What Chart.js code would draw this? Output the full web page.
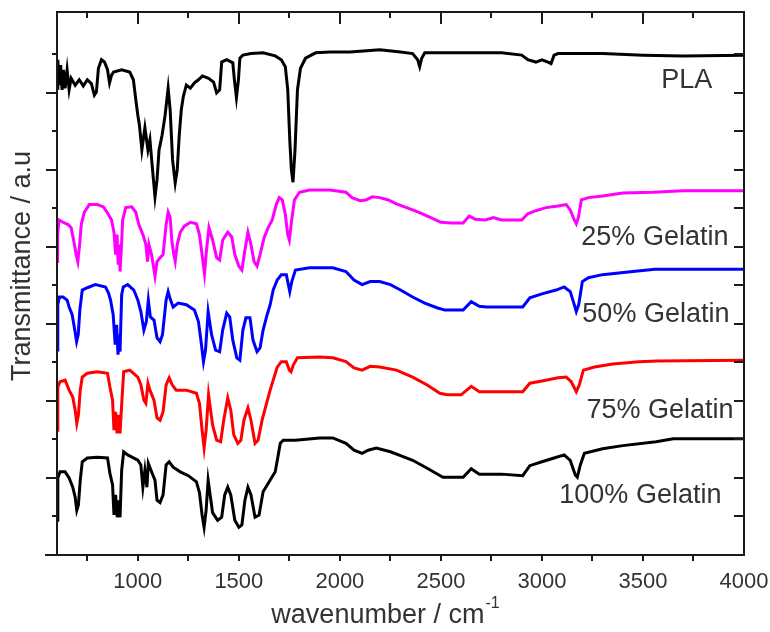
<!DOCTYPE html>
<html>
<head>
<meta charset="utf-8">
<title>FTIR spectra</title>
<script src="https://cdn.jsdelivr.net/npm/chart.js@4"></script>
<style>
  html, body { margin: 0; padding: 0; background: #fff; }
  canvas { display: block; }
</style>
</head>
<body>
<canvas id="ftir-chart" width="770" height="632"></canvas>
<script>
// Spectra as [wavenumber (cm-1), transmittance (a.u., offset per sample)]
const pla = [
    [600, 6.06], [604, 6.43], [610, 6.10], [618, 6.36], [625, 6.04], [632, 6.30], [640, 6.06], [650, 6.30],
    [660, 6.04], [670, 6.19], [690, 6.10], [710, 6.17], [730, 6.09], [750, 6.17], [770, 6.12], [785, 5.97],
    [795, 6.01], [805, 6.32], [820, 6.43], [835, 6.40], [850, 6.30], [860, 6.13], [870, 6.23], [880, 6.27],
    [920, 6.30], [960, 6.27], [978, 6.17], [990, 5.91], [1000, 5.71], [1008, 5.58], [1020, 5.26], [1035, 5.55],
    [1050, 5.26], [1060, 5.39], [1075, 4.94], [1085, 4.65], [1095, 4.87], [1105, 5.26], [1120, 5.45], [1135, 5.71],
    [1150, 6.06], [1160, 5.78], [1172, 5.13], [1185, 4.83], [1195, 5.00], [1205, 5.45], [1215, 5.78], [1225, 5.95],
    [1240, 6.10], [1260, 6.06], [1280, 6.13], [1300, 6.17], [1320, 6.22], [1350, 6.19], [1375, 6.14], [1390, 6.00],
    [1405, 6.04], [1415, 6.40], [1440, 6.43], [1470, 6.39], [1478, 6.17], [1488, 5.94], [1498, 6.17], [1505, 6.45],
    [1520, 6.49], [1560, 6.51], [1620, 6.52], [1680, 6.48], [1710, 6.43], [1730, 6.34], [1742, 6.04], [1752, 5.39],
    [1760, 5.00], [1768, 4.84], [1778, 5.26], [1790, 6.04], [1805, 6.32], [1830, 6.45], [1880, 6.52], [1950, 6.53],
    [2050, 6.53], [2150, 6.55], [2197, 6.56], [2300, 6.53], [2360, 6.51], [2385, 6.43], [2395, 6.34], [2405, 6.45],
    [2420, 6.52], [2600, 6.52], [2800, 6.52], [2900, 6.49], [2930, 6.43], [2970, 6.40], [3000, 6.43], [3030, 6.40],
    [3045, 6.38], [3060, 6.49], [3080, 6.51], [3300, 6.51], [3500, 6.49], [3700, 6.48], [4000, 6.49]
];

const gelatin25 = [
    [600, 3.81], [603, 4.16], [610, 4.35], [630, 4.32], [655, 4.29], [670, 4.25], [682, 4.09], [695, 3.90],
    [703, 3.81], [712, 4.03], [720, 4.29], [735, 4.45], [760, 4.55], [800, 4.55], [830, 4.52], [850, 4.44],
    [870, 4.35], [882, 4.19], [890, 3.90], [897, 4.16], [903, 3.77], [908, 4.03], [912, 3.68], [918, 3.96],
    [925, 4.35], [940, 4.51], [970, 4.52], [990, 4.45], [1005, 4.29], [1025, 4.16], [1040, 4.03], [1048, 3.81],
    [1055, 4.03], [1068, 3.90], [1085, 3.62], [1095, 3.81], [1110, 3.86], [1125, 3.90], [1140, 4.29], [1150, 4.45],
    [1160, 4.38], [1168, 4.09], [1178, 3.90], [1185, 3.81], [1195, 4.03], [1210, 4.19], [1230, 4.27], [1260, 4.32],
    [1290, 4.30], [1305, 4.16], [1318, 3.90], [1330, 3.65], [1340, 3.96], [1352, 4.25], [1370, 4.09], [1390, 3.86],
    [1405, 3.83], [1420, 4.09], [1445, 4.19], [1465, 4.13], [1480, 3.90], [1500, 3.75], [1515, 3.70], [1530, 3.96],
    [1545, 4.19], [1560, 4.03], [1575, 3.81], [1590, 3.75], [1605, 3.90], [1625, 4.12], [1645, 4.25], [1665, 4.35],
    [1685, 4.55], [1700, 4.64], [1715, 4.61], [1730, 4.42], [1742, 4.16], [1750, 4.09], [1760, 4.32], [1775, 4.61],
    [1800, 4.71], [1850, 4.74], [1950, 4.74], [2030, 4.71], [2060, 4.64], [2100, 4.60], [2130, 4.61], [2160, 4.65],
    [2197, 4.64], [2240, 4.61], [2280, 4.56], [2320, 4.52], [2360, 4.48], [2400, 4.44], [2450, 4.38], [2500, 4.32],
    [2550, 4.31], [2610, 4.31], [2640, 4.40], [2670, 4.36], [2720, 4.35], [2760, 4.38], [2800, 4.35], [2900, 4.35],
    [2930, 4.43], [2970, 4.47], [3020, 4.51], [3080, 4.53], [3120, 4.55], [3140, 4.48], [3160, 4.35], [3170, 4.30],
    [3180, 4.38], [3195, 4.61], [3230, 4.64], [3300, 4.66], [3400, 4.70], [3550, 4.71], [3700, 4.73], [4000, 4.73]
];

const gelatin50 = [
    [600, 2.66], [604, 3.25], [612, 3.35], [630, 3.35], [650, 3.31], [660, 3.22], [675, 3.12], [688, 2.92],
    [697, 2.77], [705, 2.86], [713, 3.18], [725, 3.44], [750, 3.47], [790, 3.51], [840, 3.48], [855, 3.40],
    [865, 3.31], [878, 3.12], [888, 2.73], [895, 2.99], [902, 2.60], [908, 2.86], [912, 2.64], [920, 3.38],
    [928, 3.48], [950, 3.51], [980, 3.44], [1000, 3.31], [1015, 3.16], [1030, 2.92], [1042, 3.03], [1052, 3.31],
    [1062, 3.09], [1080, 3.05], [1095, 2.82], [1110, 2.77], [1122, 2.86], [1140, 3.31], [1150, 3.42], [1162, 3.31],
    [1175, 3.22], [1200, 3.27], [1240, 3.25], [1280, 3.18], [1300, 3.03], [1315, 2.73], [1325, 2.51], [1335, 2.66],
    [1348, 3.16], [1365, 2.86], [1385, 2.66], [1405, 2.64], [1420, 2.92], [1440, 3.14], [1455, 3.09], [1470, 2.79],
    [1490, 2.56], [1505, 2.53], [1520, 2.92], [1535, 3.08], [1555, 3.08], [1570, 2.79], [1590, 2.64], [1605, 2.69],
    [1620, 2.92], [1640, 3.12], [1655, 3.25], [1670, 3.44], [1690, 3.57], [1710, 3.64], [1735, 3.64], [1745, 3.51],
    [1752, 3.42], [1762, 3.55], [1780, 3.70], [1850, 3.73], [1965, 3.73], [2030, 3.68], [2070, 3.57], [2110, 3.51],
    [2150, 3.55], [2197, 3.55], [2250, 3.51], [2300, 3.44], [2360, 3.35], [2420, 3.27], [2480, 3.21], [2520, 3.18],
    [2610, 3.18], [2650, 3.29], [2690, 3.23], [2725, 3.22], [2800, 3.22], [2905, 3.22], [2940, 3.34], [3000, 3.39],
    [3070, 3.44], [3110, 3.48], [3140, 3.42], [3160, 3.25], [3170, 3.16], [3182, 3.25], [3200, 3.55], [3230, 3.60],
    [3300, 3.64], [3450, 3.68], [3560, 3.71], [4000, 3.71]
];

const gelatin75 = [
    [600, 1.62], [604, 2.18], [615, 2.25], [640, 2.27], [660, 2.14], [678, 2.05], [690, 1.88], [698, 1.71],
    [706, 1.82], [715, 2.14], [725, 2.31], [750, 2.36], [800, 2.38], [850, 2.36], [862, 2.18], [875, 2.01],
    [882, 1.62], [890, 1.86], [897, 1.58], [905, 1.82], [912, 1.58], [920, 1.95], [930, 2.38], [960, 2.40],
    [1000, 2.31], [1015, 2.21], [1030, 2.01], [1040, 1.97], [1050, 2.23], [1060, 2.14], [1080, 2.01], [1095, 1.78],
    [1110, 1.75], [1125, 1.86], [1140, 2.21], [1155, 2.30], [1170, 2.21], [1190, 2.14], [1240, 2.14], [1290, 2.10],
    [1305, 1.97], [1318, 1.62], [1328, 1.39], [1338, 1.62], [1350, 2.08], [1370, 1.69], [1390, 1.49], [1410, 1.47],
    [1425, 1.75], [1445, 2.04], [1460, 1.88], [1475, 1.56], [1495, 1.45], [1510, 1.49], [1525, 1.75], [1545, 1.91],
    [1560, 1.75], [1580, 1.45], [1595, 1.49], [1615, 1.75], [1635, 1.95], [1655, 2.14], [1670, 2.27], [1690, 2.44],
    [1710, 2.51], [1735, 2.51], [1750, 2.40], [1758, 2.38], [1770, 2.47], [1790, 2.56], [1900, 2.57], [1965, 2.56],
    [2030, 2.51], [2070, 2.43], [2110, 2.40], [2150, 2.45], [2197, 2.44], [2280, 2.40], [2360, 2.31], [2430, 2.21],
    [2495, 2.10], [2530, 2.08], [2600, 2.08], [2650, 2.19], [2690, 2.12], [2905, 2.12], [2940, 2.23], [3000, 2.26],
    [3080, 2.30], [3120, 2.31], [3145, 2.25], [3170, 2.12], [3185, 2.21], [3205, 2.40], [3260, 2.44], [3350, 2.48],
    [3480, 2.51], [3570, 2.52], [4000, 2.53]
];

const gelatin100 = [
    [600, 0.45], [604, 1.00], [615, 1.08], [640, 1.08], [660, 1.00], [678, 0.88], [690, 0.75], [698, 0.58],
    [706, 0.65], [715, 0.97], [725, 1.21], [750, 1.26], [800, 1.27], [850, 1.26], [862, 1.06], [875, 0.91],
    [882, 0.52], [890, 0.78], [898, 0.49], [905, 0.71], [912, 0.49], [920, 1.10], [930, 1.34], [950, 1.30],
    [1000, 1.23], [1015, 1.17], [1025, 0.88], [1035, 1.10], [1045, 0.88], [1052, 1.19], [1065, 1.10], [1085, 0.97],
    [1095, 0.71], [1110, 0.68], [1125, 0.78], [1140, 1.17], [1155, 1.21], [1175, 1.14], [1210, 1.08], [1250, 1.03],
    [1290, 0.95], [1305, 0.81], [1318, 0.52], [1328, 0.36], [1338, 0.58], [1348, 0.97], [1370, 0.55], [1395, 0.45],
    [1415, 0.49], [1430, 0.78], [1445, 0.88], [1460, 0.78], [1480, 0.45], [1500, 0.36], [1515, 0.39], [1530, 0.71],
    [1545, 0.88], [1560, 0.78], [1580, 0.49], [1600, 0.52], [1620, 0.82], [1650, 0.95], [1680, 1.08], [1695, 1.30],
    [1705, 1.45], [1720, 1.49], [1780, 1.49], [1900, 1.52], [1965, 1.52], [2030, 1.45], [2070, 1.36], [2110, 1.32],
    [2140, 1.36], [2180, 1.39], [2250, 1.34], [2300, 1.29], [2360, 1.23], [2430, 1.13], [2510, 1.01], [2610, 1.01],
    [2650, 1.12], [2690, 1.05], [2800, 1.05], [2905, 1.03], [2940, 1.16], [3000, 1.21], [3060, 1.26], [3110, 1.30],
    [3140, 1.23], [3165, 1.04], [3175, 1.01], [3190, 1.17], [3210, 1.32], [3300, 1.38], [3400, 1.42], [3565, 1.47],
    [3650, 1.51], [4000, 1.51]
];

const sampleNames = ['PLA', '25% Gelatin', '50% Gelatin', '75% Gelatin', '100% Gelatin'];
const sampleColors = ['#000000', '#ff00ff', '#0000ff', '#ff0000', '#000000'];
const xTickLabels = [1000, 1500, 2000, 2500, 3000, 3500, 4000];

const FONT = "'Liberation Sans', Arial, sans-serif";
const TEXT_COLOR = '#333333';

// where each sample name sits (left edge in cm-1, vertical centre in a.u.)
const nameAnchors = [[3590, 6.16], [3195, 4.12], [3200, 3.12], [3220, 1.87], [3086, 0.77]];

// Origin-style box: outward ticks bottom/left, inward ticks top/right
const boxAxes = {
    id: 'boxAxes',
    afterDraw(chart) {
        const { ctx, chartArea: a, scales: { x, y } } = chart;
        ctx.save();
        ctx.strokeStyle = '#1a1a1a';
        ctx.lineWidth = 2;
        ctx.lineCap = 'butt';
        ctx.strokeRect(a.left, a.top, a.right - a.left, a.bottom - a.top);

        ctx.beginPath();
        // bottom line runs slightly past the left edge
        ctx.moveTo(a.left - 12, a.bottom);
        ctx.lineTo(a.left, a.bottom);

        for (let w = 750; w < 4000; w += 250) {
            const px = Math.round(x.getPixelForValue(w));
            const major = w % 500 === 0;
            ctx.moveTo(px, a.bottom);
            ctx.lineTo(px, a.bottom + 6);
            ctx.moveTo(px, a.top);
            ctx.lineTo(px, a.top + (major ? 12 : 6));
        }
        for (let v = 0.5; v <= 6.5; v += 0.5) {
            const py = Math.round(y.getPixelForValue(v));
            const major = Number.isInteger(v);
            ctx.moveTo(a.left, py);
            ctx.lineTo(a.left - (major ? 11 : 5), py);
            ctx.moveTo(a.right, py);
            ctx.lineTo(a.right - 10, py);
        }
        ctx.stroke();

        // axis titles
        ctx.fillStyle = TEXT_COLOR;
        ctx.textBaseline = 'middle';
        ctx.font = '27px ' + FONT;
        const main = 'wavenumber / cm';
        const mainW = ctx.measureText(main).width;
        ctx.font = '16px ' + FONT;
        const supW = ctx.measureText('-1').width;
        const startX = 385 - (mainW + supW) / 2;
        ctx.font = '27px ' + FONT;
        ctx.textAlign = 'left';
        ctx.fillText(main, startX, 616);
        ctx.font = '16px ' + FONT;
        ctx.fillText('-1', startX + mainW + 1, 604);

        ctx.save();
        ctx.translate(23, 266);
        ctx.rotate(-Math.PI / 2);
        ctx.textAlign = 'center';
        ctx.font = '27px ' + FONT;
        ctx.fillText('Transmittance / a.u', 0, 0);
        ctx.restore();

        // sample names beside their curves
        ctx.font = '27px ' + FONT;
        ctx.textAlign = 'left';
        sampleNames.forEach((name, i) => {
            const [w, v] = nameAnchors[i];
            ctx.fillText(name, x.getPixelForValue(w), y.getPixelForValue(v));
        });
        ctx.restore();
    }
};

const series = [pla, gelatin25, gelatin50, gelatin75, gelatin100];

const ctx = document.getElementById('ftir-chart').getContext('2d');
const ftirChart = new Chart(ctx, {
    type: 'line',
    data: {
        datasets: series.map((pts, i) => ({
            label: sampleNames[i],
            data: pts.map(([w, t]) => ({ x: w, y: t })),
            borderColor: sampleColors[i],
            borderWidth: 3,
            pointRadius: 0,
            tension: 0,
            fill: false
        }))
    },
    options: {
        responsive: false,
        animation: false,
        layout: { padding: { left: 57, right: 26, top: 12, bottom: 0 } },
        plugins: {
            legend: { display: false },
            tooltip: { enabled: false }
        },
        scales: {
            x: {
                type: 'linear',
                min: 600,
                max: 4000,
                grid: { display: false, drawTicks: false },
                border: { display: false },
                ticks: {
                    color: TEXT_COLOR,
                    font: { family: FONT, size: 22 },
                    padding: 14,
                    maxRotation: 0,
                    callback: v => String(v)
                },
                afterBuildTicks: scale => {
                    scale.ticks = xTickLabels.map(v => ({ value: v }));
                },
                afterFit: scale => {
                    scale.height = 77;
                    // the end labels fit inside the layout padding already
                    scale.paddingLeft = 0;
                    scale.paddingRight = 0;
                }
            },
            y: {
                display: false,
                min: 0,
                max: 7.05
            }
        }
    },
    plugins: [boxAxes]
});
</script>
</body>
</html>
